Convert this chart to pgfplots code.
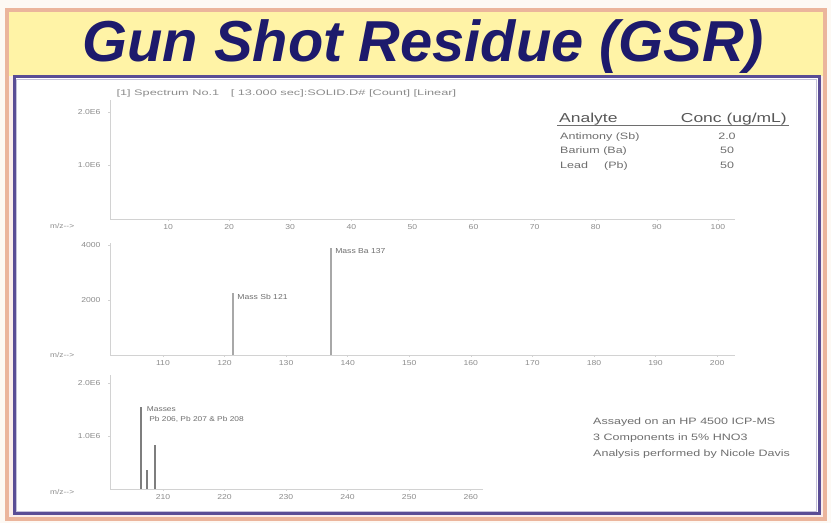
\documentclass[border=0pt]{standalone}
\usepackage{fontspec}
\setmainfont{Liberation Sans}
\newfontfamily\wf[FakeStretch=1.2]{Liberation Sans}
\newfontfamily\wfb[FakeStretch=1.35]{Liberation Sans}
\newfontfamily\wfc[FakeStretch=1.6]{Liberation Sans}
\usepackage{pgfplots}
\pgfplotsset{compat=1.18}
\definecolor{cream}{HTML}{FDF9F4}
\definecolor{pinkbg}{HTML}{FBEDEA}
\definecolor{yellowbg}{HTML}{FFF3A6}
\definecolor{peach}{HTML}{EBB59C}
\definecolor{panelc}{HTML}{5A4D95}
\definecolor{navy}{HTML}{1D1A6C}
\definecolor{axgrey}{HTML}{D2D2D2}
\definecolor{tickgrey}{HTML}{8C8C8C}
\definecolor{peakgrey}{HTML}{A8A8A8}
\definecolor{txtgrey}{HTML}{6E6E6E}
\pgfplotsset{
  ms/.style={
    scale only axis, clip=false,
    axis x line*=bottom, axis y line*=left,
    axis line style={draw=axgrey, line width=0.8bp},
    tick style={draw=axgrey, line width=0.5bp},
    major tick length=2bp, tick align=outside,
    ticklabel style={font=\wf\fontsize{7.2}{8}\selectfont, text=tickgrey},
    yticklabel style={xshift=-4bp},
    scaled y ticks=false, scaled x ticks=false,
    /pgf/number format/assume math mode=true,
    ymin=0,
  }
}
\begin{document}
\begin{tikzpicture}[x=1bp,y=1bp]
\useasboundingbox (0,0) rectangle (831,523);
\fill[cream] (0,0) rectangle (831,523);
\fill[pinkbg] (7,4) rectangle (825,513);
\fill[yellowbg] (9,447) rectangle (823,511);
\draw[peach, line width=3.5bp] (7,4) rectangle (825,513);
\fill[white] (14,9) rectangle (819,446);
\draw[panelc, line width=3bp] (14,9) rectangle (819,446);
\draw[panelc!35, line width=1bp] (16.5,11.5) rectangle (816.5,443.5);
\node[anchor=base, font=\bfseries\itshape\fontsize{58}{60}\selectfont, text=navy, inner sep=0] at (423,461) {Gun Shot Residue (GSR)};

% Panel 1
\begin{axis}[ms, at={(110bp,304bp)}, anchor=south west, width=625bp, height=119bp,
  xmin=0.5, xmax=102.8, ymax=2.22e6,
  xtick={10,20,30,40,50,60,70,80,90,100},
  xticklabels={10,20,30,40,50,60,70,80,90,100},
  ytick={1e6,2e6}, yticklabels={1.0E6,2.0E6}]
\addplot[draw=none] coordinates {(50,0)};
\end{axis}
% Panel 2
\begin{axis}[ms, at={(110bp,168bp)}, anchor=south west, width=625bp, height=112bp,
  xmin=101.4, xmax=202.9, ymax=4073,
  xtick={110,120,130,140,150,160,170,180,190,200},
  xticklabels={110,120,130,140,150,160,170,180,190,200},
  ytick={2000,4000}, yticklabels={2000,4000}]
\addplot[ycomb, draw=peakgrey, line width=2.4bp, mark=none] coordinates {(121.4,2250) (137.3,3900)};
\node[anchor=north west, font=\wf\fontsize{7.2}{8}\selectfont, text=txtgrey, inner sep=1bp] at (axis cs:121.4,2250) [xshift=3bp] {Mass Sb 121};
\node[anchor=north west, font=\wf\fontsize{7.2}{8}\selectfont, text=txtgrey, inner sep=1bp] at (axis cs:137.3,3900) [xshift=3bp] {Mass Ba 137};
\end{axis}
% Panel 3
\begin{axis}[ms, at={(110bp,34bp)}, anchor=south west, width=373bp, height=114bp,
  xmin=201.4, xmax=262, ymax=2.15e6,
  xtick={210,220,230,240,250,260},
  xticklabels={210,220,230,240,250,260},
  ytick={1e6,2e6}, yticklabels={1.0E6,2.0E6}]
\addplot[ycomb, draw=peakgrey!75!black, line width=1.6bp, mark=none] coordinates {(206.4,1.55e6) (207.4,0.36e6) (208.7,0.83e6)};
\node[anchor=north west, font=\wf\fontsize{7}{10}\selectfont, text=txtgrey, inner sep=1bp, align=left] at (axis cs:206.4,1.55e6) [xshift=5bp,yshift=1bp] {Masses\\ \ Pb 206, Pb 207 \& Pb 208};
\end{axis}

% m/z labels
\foreach \yy in {297,168,31} {
  \node[font=\wf\fontsize{7}{8}\selectfont, text=tickgrey, anchor=west, inner sep=0] at (50,\yy) {m/z-->};
}
% header
\node[anchor=west, font=\wfc\fontsize{8}{9}\selectfont, text=tickgrey] at (113,430) {[1] Spectrum No.1 \quad [ 13.000 sec]:SOLID.D\# [Count] [Linear]};

% analyte table
\node[anchor=base west, font=\wfb\fontsize{13}{14}\selectfont, text=txtgrey!80!black, inner sep=0] at (559,400) {Analyte};
\node[anchor=base east, font=\wfb\fontsize{13}{14}\selectfont, text=txtgrey!80!black, inner sep=0] at (787,400) {Conc (ug/mL)};
\draw[txtgrey, line width=1bp] (557,397) -- (789,397);
\foreach \yy/\aa/\cc in {383/Antimony (Sb)/2.0, 369/Barium (Ba)/50, 354/Lead\quad\ \ (Pb)/50} {
  \node[anchor=base west, font=\wfb\fontsize{9.3}{10}\selectfont, text=txtgrey, inner sep=0] at (560,\yy) {\aa};
  \node[anchor=base, font=\wfb\fontsize{9.3}{10}\selectfont, text=txtgrey, inner sep=0] at (727,\yy) {\cc};
}
% annotation
\node[anchor=north west, align=left, font=\wfb\fontsize{9.3}{16}\selectfont, text=txtgrey, inner sep=0] at (593,105) {Assayed on an HP 4500 ICP-MS\\3 Components in 5\% HNO3\\Analysis performed by Nicole Davis};
\end{tikzpicture}
\end{document}
